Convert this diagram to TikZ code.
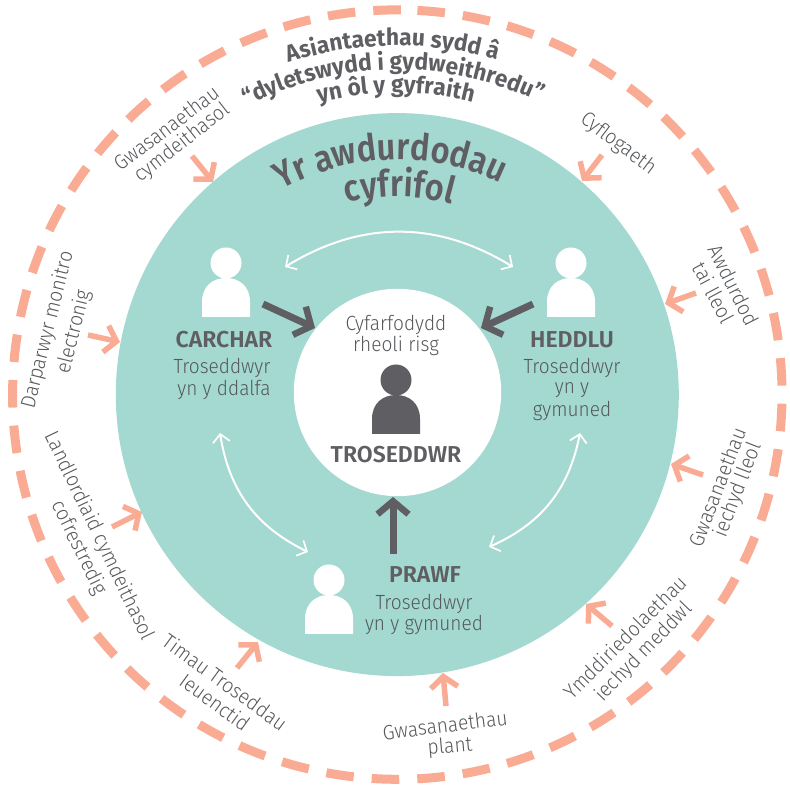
\documentclass[tikz,border=0pt]{standalone}
\usepackage{fontspec}
\usetikzlibrary{arrows.meta,decorations.text,bending}
\setmainfont{Fira Sans}
\newfontfamily\lightf{Fira Sans Light}[FakeStretch=0.93]
\newfontfamily\semif{Fira Sans SemiBold}
\newfontfamily\titlef{Fira Sans SemiBold}[FakeStretch=0.88]
\newfontfamily\subf{Fira Sans Bold}[FakeStretch=0.97]
\definecolor{teal1}{HTML}{A4D9D1}
\definecolor{peach}{HTML}{F9AB94}
\definecolor{dk}{HTML}{5F5F63}
\definecolor{mid}{HTML}{55585B}
\tikzset{
  x=1pt,y=1pt,
  feeder/.style={draw=peach,line width=5.5pt,-{Straight Barb[length=11pt,width=27pt,line width=5.5pt]}},
  bigarrow/.style={draw=dk,line width=7pt,-{Straight Barb[length=13pt,width=31pt,line width=6.5pt]}},
  swap/.style={draw=white,line width=2pt,{Straight Barb[length=8pt,width=17pt,line width=1.7pt]}-{Straight Barb[length=8pt,width=17pt,line width=1.7pt]}},
  outer/.style={text=mid,font=\fontsize{20.7}{21}\selectfont\lightf,inner sep=0pt},
  inner/.style={text=mid,font=\fontsize{20.5}{21}\selectfont\lightf,inner sep=0pt},
  head/.style={text=dk,font=\fontsize{23}{23}\selectfont\semif,inner sep=0pt},
  personicon/.pic={
    \fill (0,54) circle[radius=15.5];
    \fill (-24,0) -- (-24,15) .. controls (-24,31) and (-13,39) .. (0,39) .. controls (13,39) and (24,31) .. (24,15) -- (24,0) -- cycle;
  }
}
\begin{document}
\begin{tikzpicture}
\useasboundingbox (0,0) rectangle (790,787);
\coordinate (C) at (397.3,392.4);
% circles
\fill[teal1] (C) circle[radius=281.5];
\fill[white] (397.5,394.5) circle[radius=103.7];
\draw[peach,line width=9pt,dash pattern=on 27.6pt off 18.04pt]
  ([shift={(87:384.7)}]C) arc[start angle=87,delta angle=-360,radius=384.7];
% people
\pic[white] at (226,470) {personicon};
\pic[white] at (571,470) {personicon};
\pic[white] at (329,153) {personicon};
\pic[dk] at (396,353) {personicon};
% curved titles
\path[decorate,decoration={text along path,text align=center,text color=dk,
  text={|\fontsize{37}{37}\selectfont\titlef|Yr awdurdodau}}]
  ([shift={(151.7:235)}]C) arc[start angle=151.7,end angle=31.7,radius=235];
\path[decorate,decoration={text along path,text align=center,text color=dk,
  text={|\fontsize{37}{37}\selectfont\titlef|cyfrifol}}]
  ([shift={(149.4:198)}]C) arc[start angle=149.4,end angle=29.4,radius=198];
\path[decorate,decoration={text along path,text align=center,text color=dk,
  text={|\fontsize{23.5}{23.5}\selectfont\subf|Asiantaethau sydd â}}]
  ([shift={(130.8:349)}]C) arc[start angle=130.8,end angle=50.8,radius=349];
\path[decorate,decoration={text along path,text align=center,text color=dk,
  text={|\fontsize{23.5}{23.5}\selectfont\subf|“dyletswydd i gydweithredu”}}]
  ([shift={(130.8:325)}]C) arc[start angle=130.8,end angle=50.8,radius=325];
\path[decorate,decoration={text along path,text align=center,text color=dk,
  text={|\fontsize{23.5}{23.5}\selectfont\subf|yn ôl y gyfraith}}]
  ([shift={(130.3:302)}]C) arc[start angle=130.3,end angle=50.3,radius=302];
% straight outer labels
\node[outer,rotate=37] (gc1) at (166,659) {Gwasanaethau};
\node[outer,rotate=38] (gc2) at (182,644) {cymdeithasol};
\node[outer,rotate=-37] (cy) at (618,643) {Cyflogaeth};
\node[outer,rotate=-63] (aw1) at (734,502) {Awdurdod};
\node[outer,rotate=-62] (aw2) at (714,494) {tai lleol};
\node[outer,rotate=76] (dp1) at (48,457) {Darparwyr monitro};
\node[outer,rotate=76] (dp2) at (74,455) {electronig};
\node[outer,rotate=-64.5] (la1) at (99,251) {Landlordiaid cymdeithasol};
\node[outer,rotate=-64] (la2) at (79,239) {cofrestredig};
\node[outer,rotate=-36] (ti1) at (225,105) {Timau Troseddau};
\node[outer,rotate=-36] (ti2) at (215,85) {Ieuenctid};
\node[outer,rotate=7] (pl1) at (445,62) {Gwasanaethau};
\node[outer,rotate=5] (pl2) at (450,40) {plant};
\node[outer,rotate=45] (ym1) at (625,150) {Ymddiriedolaethau};
\node[outer,rotate=46] (ym2) at (644,135) {iechyd meddwl};
\node[outer,rotate=69] (ie1) at (717,300) {Gwasanaethau};
\node[outer,rotate=69] (ie2) at (738,297) {iechyd lleol};
% inner labels
\node[head] (carchar) at (224,447) {CARCHAR};
\node[inner] (c1) at (222,419) {Troseddwyr};
\node[inner] (c2) at (224,397) {yn y ddalfa};
\node[inner] (m1) at (396,462) {Cyfarfodydd};
\node[inner] (m2) at (396,441) {rheoli risg};
\node[head] (tros) at (396,332) {TROSEDDWR};
\node[head] (heddlu) at (572,447) {HEDDLU};
\node[inner] (h1) at (572,419) {Troseddwyr};
\node[inner] (h2) at (572,397) {yn y};
\node[inner] (h3) at (572,376) {gymuned};
\node[head] (prawf) at (425,212) {PRAWF};
\node[inner] (p1) at (424,183) {Troseddwyr};
\node[inner] (p2) at (424,162) {yn y gymuned};
% feeder arrows
\coordinate (t1) at (192,631); \coordinate (h1a) at (213,605);
\coordinate (t2) at (602,632); \coordinate (h2a) at (582,606);
\coordinate (t3) at (696,494); \coordinate (h3a) at (665,483);
\coordinate (t4) at (88,452);  \coordinate (h4a) at (120,445);
\coordinate (t5) at (112,260); \coordinate (h5a) at (142,275);
\coordinate (t6) at (237,119); \coordinate (h6a) at (258,145);
\coordinate (t7) at (446,81);  \coordinate (h7a) at (443,114);
\coordinate (t8) at (612,161); \coordinate (h8a) at (586,183);
\coordinate (t9) at (703,312); \coordinate (h9a) at (671,323);
\foreach \a/\b in {t1/h1a,t2/h2a,t3/h3a,t4/h4a,t5/h5a,t6/h6a,t7/h7a,t8/h8a,t9/h9a}
  \draw[feeder] (\a) -- (\b);
% dark arrows
\coordinate (da) at (263,483); \coordinate (db) at (315,459);
\coordinate (dc) at (533,483); \coordinate (dd) at (481,459);
\coordinate (de) at (393,233); \coordinate (df) at (393,290);
\draw[bigarrow] (da) -- (db);
\draw[bigarrow] (dc) -- (dd);
\draw[bigarrow] (de) -- (df);
% white arrows
\coordinate (wa) at (285,520); \coordinate (wb) at (513,520);
\coordinate (wc) at (220,354); \coordinate (wd) at (308,235);
\coordinate (we) at (580,354); \coordinate (wf) at (489,240);
\draw[swap] (wa) to[out=32,in=148] (wb);
\draw[swap] (wc) to[bend right=28] (wd);
\draw[swap] (we) to[bend left=28] (wf);
\end{tikzpicture}
\end{document}
